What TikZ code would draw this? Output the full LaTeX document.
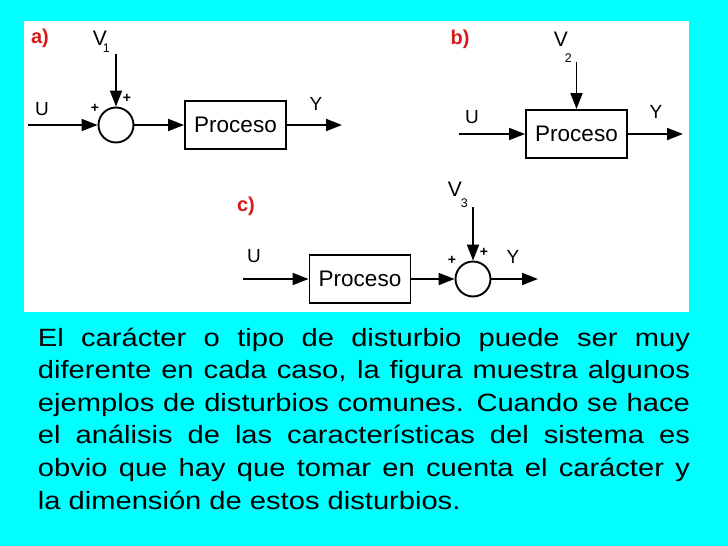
\documentclass[tikz,border=0pt]{standalone}
\usepackage{fontspec}
\usetikzlibrary{arrows.meta}
\newfontfamily\diagfont{Liberation Sans}
\newfontfamily\bodyfont[FakeStretch=1.165]{Liberation Sans}
\definecolor{labelred}{RGB}{215,25,25}
\definecolor{bgcyan}{RGB}{0,255,255}
\tikzset{
    procbox/.style={draw, line width=1.9pt, minimum width=101pt, minimum height=48pt, inner sep=0pt, font=\diagfont\fontsize{22.5}{24}\selectfont},
    sumnode/.style={circle, draw, line width=1.9pt, minimum size=35pt, inner sep=0pt},
    sig/.style={font=\diagfont\fontsize{19}{20}\selectfont, inner sep=0pt, anchor=base},
    plus/.style={font=\diagfont\bfseries\fontsize{14}{14}\selectfont, inner sep=0pt},
    casetag/.style={font=\diagfont\bfseries\fontsize{20}{20}\selectfont, text=labelred, inner sep=0pt}
}
\begin{document}
\begin{tikzpicture}[x=1pt, y=-1pt, >={Triangle[length=16pt, width=12pt]}, line width=1.9pt]
        % ==== DEFINITIONS ====
        \def\subfont{\diagfont\fontsize{12.5}{13}\selectfont}

        % ==== BACKGROUND ====
        \useasboundingbox (0,0) rectangle (728,546);
        \fill[bgcyan] (0,0) rectangle (728,546);
        \fill[white] (24,21) rectangle (689,312);

        % ==== CASE a) ====
        \node[casetag] (taga) at (40,38) {a)};
        \coordinate (ain) at (28,125);
        \coordinate (adist) at (116,54);
        \coordinate (aout) at (342,125);
        \node[sumnode] (asum) at (116,125) {};
        \node[procbox] (aproc) at (235.5,125) {Proceso};
        \draw[->] (ain) -- (asum);
        \draw[->] (adist) -- (asum);
        \draw[->] (asum) -- (aproc);
        \draw[->] (aproc) -- (aout);
        \node[sig] (ua) at (42,115) {U};
        \node[sig] (ya) at (316,110) {Y};
        \node[sig, anchor=base west, font=\diagfont\fontsize{21}{22}\selectfont] (va) at (92,45) {V\kern-4pt\raisebox{-7pt}{\subfont 1}};
        \node[plus] (pa1) at (95,108) {+};
        \node[plus] (pa2) at (127,98) {+};

        % ==== CASE b) ====
        \node[casetag] (tagb) at (460,39) {b)};
        \coordinate (bin) at (459,134);
        \coordinate (bdist) at (576.5,62);
        \coordinate (bout) at (683,134);
        \node[procbox] (bproc) at (576.5,134) {Proceso};
        \draw[->] (bin) -- (bproc);
        \draw[->] (bdist) -- (bproc);
        \draw[->] (bproc) -- (bout);
        \node[sig] (ub) at (472,123) {U};
        \node[sig] (yb) at (656,118) {Y};
        \node[sig, anchor=base west, font=\diagfont\fontsize{21}{22}\selectfont] (vb) at (553,46) {V\kern-3pt\raisebox{-16pt}{\subfont 2}};

        % ==== CASE c) ====
        \node[casetag] (tagc) at (246,206) {c)};
        \coordinate (cin) at (243,279);
        \coordinate (cdist) at (473,207);
        \coordinate (cout) at (538,279);
        \node[procbox] (cproc) at (360,279) {Proceso};
        \node[sumnode] (csum) at (473,279) {};
        \draw[->] (cin) -- (cproc);
        \draw[->] (cproc) -- (csum);
        \draw[->] (cdist) -- (csum);
        \draw[->] (csum) -- (cout);
        \node[sig] (uc) at (254,262) {U};
        \node[sig] (yc) at (513,263) {Y};
        \node[sig, anchor=base west, font=\diagfont\fontsize{21}{22}\selectfont] (vc) at (447,196) {V\kern-1pt\raisebox{-11pt}{\subfont 3}};
        \node[plus] (pc1) at (452,260) {+};
        \node[plus] (pc2) at (484,252) {+};

        % ==== TEXT ====
        \node[anchor=base west, text width=652pt, align=justify, inner sep=0pt,
              font=\bodyfont\fontsize{25}{32.6}\selectfont] (texto) at (37,346)
            {El carácter o tipo de disturbio puede ser muy\linebreak
             diferente en cada caso, la figura muestra algunos\linebreak
             ejemplos de disturbios comunes. Cuando se hace\linebreak
             el análisis de las características del sistema es\linebreak
             obvio que hay que tomar en cuenta el carácter y\linebreak
             la dimensión de estos disturbios.};
    \end{tikzpicture}
\end{document}
